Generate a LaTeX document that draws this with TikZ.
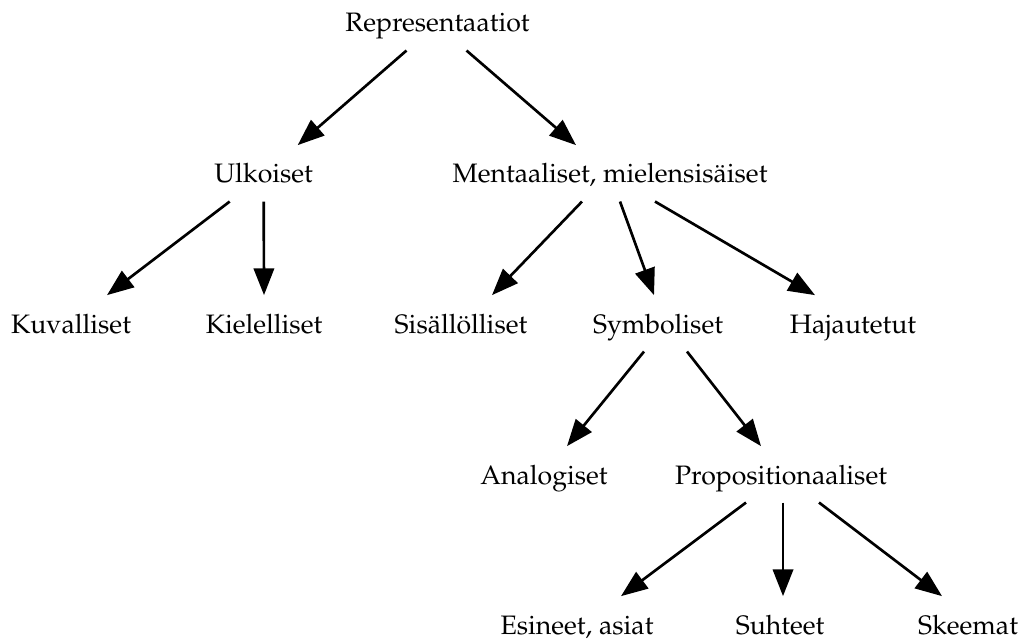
\documentclass[tikz,border=0pt]{standalone}
\usepackage[T1]{fontenc}
\usepackage{mathpazo}
\usetikzlibrary{arrows.meta,calc}

\begin{document}
\begin{tikzpicture}[x=0.375pt,y=-0.375pt,
                    concept/.style={anchor=base,inner sep=0pt,text height=14pt,text depth=6.75pt},
                    link/.style={-{Triangle[length=10pt,width=7.6pt]},line width=1pt}]
  \useasboundingbox (0,0) rectangle (1035,640);
  % root
  \node[concept] (rep) at (437.5,32) {Representaatiot};
  % level 1
  \node[concept] (ulk) at (263.7,183) {Ulkoiset};
  \node[concept] (men) at (610,183) {Mentaaliset, mielensis\"aiset};
  % level 2
  \node[concept] (kuv) at (71,333) {Kuvalliset};
  \node[concept] (kie) at (264,333) {Kielelliset};
  \node[concept] (sis) at (461,333) {Sis\"all\"olliset};
  \node[concept] (sym) at (658,333) {Symboliset};
  \node[concept] (haj) at (853,333) {Hajautetut};
  % level 3
  \node[concept] (ana) at (544,484) {Analogiset};
  \node[concept] (pro) at (781,484) {Propositionaaliset};
  % level 4
  \node[concept] (esi) at (577,634) {Esineet, asiat};
  \node[concept] (suh) at (780,634) {Suhteet};
  \node[concept] (ske) at (968,634) {Skeemat};

  \draw[link] ($(rep.south)+(-31,0)$) -- ($(ulk.north)+(34,0)$);
  \draw[link] ($(rep.south)+(29,0)$) -- ($(men.north)+(-34,0)$);
  \draw[link] ($(ulk.south)+(-34,0)$) -- ($(kuv.north)+(36,0)$);
  \draw[link] (ulk.south) -- (kie.north);
  \draw[link] ($(men.south)+(-28,0)$) -- ($(sis.north)+(31,0)$);
  \draw[link] ($(men.south)+(10,0)$) -- ($(sym.north)+(-4,0)$);
  \draw[link] ($(men.south)+(45,0)$) -- ($(haj.north)+(-38,0)$);
  \draw[link] ($(sym.south)+(-14,0)$) -- ($(ana.north)+(23,0)$);
  \draw[link] ($(sym.south)+(29,0)$) -- ($(pro.north)+(-20,0)$);
  \draw[link] ($(pro.south)+(-35,0)$) -- ($(esi.north)+(44,0)$);
  \draw[link] ($(pro.south)+(2,0)$) -- ($(suh.north)+(3,0)$);
  \draw[link] ($(pro.south)+(38,0)$) -- ($(ske.north)+(-26,0)$);
\end{tikzpicture}
\end{document}
